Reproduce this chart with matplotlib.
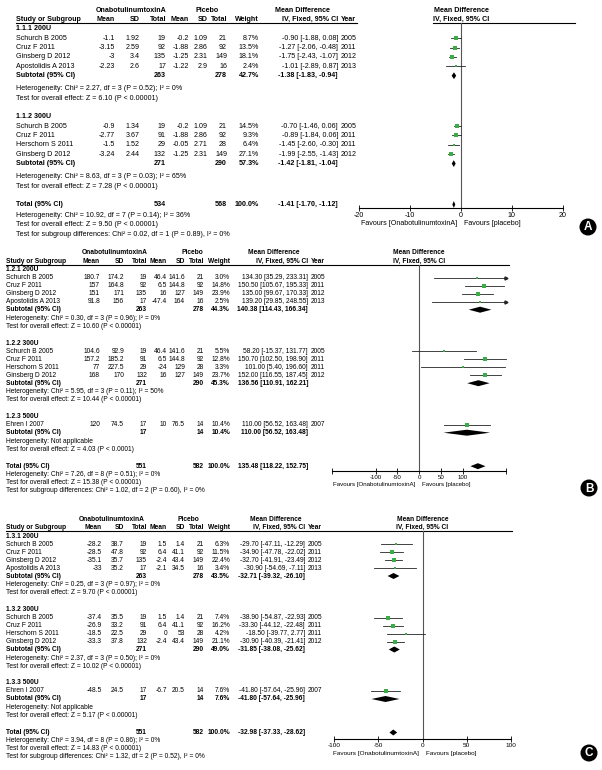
import matplotlib
matplotlib.use("Agg")
import matplotlib.pyplot as plt
from matplotlib.patches import Circle

plt.rcParams['font.family'] = ['Liberation Sans', 'DejaVu Sans']

W, H = 602, 770
GREEN = '#3aad46'

# ---------------- panel A : 200U / 300U, mean difference ----------------
a_groups = ["1.1.1 200U", "1.1.2 300U"]
a_group = [0, 0, 0, 0, 1, 1, 1, 1]
a_study = ["Schurch B 2005", "Cruz F 2011", "Ginsberg D 2012", "Apostolidis A 2013",
           "Schurch B 2005", "Cruz F 2011", "Herschorn S 2011", "Ginsberg D 2012"]
a_year = [2005, 2011, 2012, 2013, 2005, 2011, 2011, 2012]
a_t_mean = [-1.1, -3.15, -3, -2.23, -0.9, -2.77, -1.5, -3.24]
a_t_sd = [1.92, 2.59, 3.4, 2.6, 1.34, 3.67, 1.52, 2.44]
a_t_n = [19, 92, 135, 17, 19, 91, 29, 132]
a_p_mean = [-0.2, -1.88, -1.25, -1.22, -0.2, -1.88, -0.05, -1.25]
a_p_sd = [1.09, 2.86, 2.31, 2.9, 1.09, 2.86, 2.71, 2.31]
a_p_n = [21, 92, 149, 16, 21, 92, 28, 149]
a_weight = [8.7, 13.5, 18.1, 2.4, 14.5, 9.3, 6.4, 27.1]
a_md = [-0.90, -1.27, -1.75, -1.01, -0.70, -0.89, -1.45, -1.99]
a_lo = [-1.88, -2.06, -2.43, -2.89, -1.46, -1.84, -2.60, -2.55]
a_hi = [0.08, -0.48, -1.07, 0.87, 0.06, 0.06, -0.30, -1.43]
a_sub_t_n = [263, 271]
a_sub_p_n = [278, 290]
a_sub_w = [42.7, 57.3]
a_sub_md = [-1.38, -1.42]
a_sub_lo = [-1.83, -1.81]
a_sub_hi = [-0.94, -1.04]
a_sub_het = ["Heterogeneity: Chi² = 2.27, df = 3 (P = 0.52); I² = 0%",
             "Heterogeneity: Chi² = 8.63, df = 3 (P = 0.03); I² = 65%"]
a_sub_z = ["Test for overall effect: Z = 6.10 (P < 0.00001)",
           "Test for overall effect: Z = 7.28 (P < 0.00001)"]
a_tot = [534, 568, 100.0, -1.41, -1.70, -1.12]
a_tot_text = ["Heterogeneity: Chi² = 10.92, df = 7 (P = 0.14); I² = 36%",
              "Test for overall effect: Z = 9.50 (P < 0.00001)",
              "Test for subgroup differences: Chi² = 0.02, df = 1 (P = 0.89), I² = 0%"]
a_ticks = [-20, -10, 0, 10, 20]
a_ticklabels = ["-20", "-10", "0", "10", "20"]

# ---------------- panel B ----------------
b_groups = ["1.2.1 200U", "1.2.2 300U", "1.2.3 500U"]
b_group = [0, 0, 0, 0, 1, 1, 1, 1, 2]
b_study = ["Schurch B 2005", "Cruz F 2011", "Ginsberg D 2012", "Apostolidis A 2013",
           "Schurch B 2005", "Cruz F 2011", "Herschorn S 2011", "Ginsberg D 2012",
           "Ehren I 2007"]
b_year = [2005, 2011, 2012, 2013, 2005, 2011, 2011, 2012, 2007]
b_t_mean = [180.7, 157, 151, 91.8, 104.6, 157.2, 77, 168, 120]
b_t_sd = [174.2, 164.8, 171, 156, 92.9, 185.2, 227.5, 170, 74.5]
b_t_n = [19, 92, 135, 17, 19, 91, 29, 132, 17]
b_p_mean = [46.4, 6.5, 16, -47.4, 46.4, 6.5, -24, 16, 10]
b_p_sd = [141.6, 144.8, 127, 164, 141.6, 144.8, 129, 127, 76.5]
b_p_n = [21, 92, 149, 16, 21, 92, 28, 149, 14]
b_weight = [3.0, 14.8, 23.9, 2.5, 5.5, 12.8, 3.3, 23.7, 10.4]
b_md = [134.30, 150.50, 135.00, 139.20, 58.20, 150.70, 101.00, 152.00, 110.00]
b_lo = [35.29, 105.67, 99.67, 29.85, -15.37, 102.50, 5.40, 116.55, 56.52]
b_hi = [233.31, 195.33, 170.33, 248.55, 131.77, 198.90, 196.60, 187.45, 163.48]
b_sub_t_n = [263, 271, 17]
b_sub_p_n = [278, 290, 14]
b_sub_w = [44.3, 45.3, 10.4]
b_sub_md = [140.38, 136.56, 110.00]
b_sub_lo = [114.43, 110.91, 56.52]
b_sub_hi = [166.34, 162.21, 163.48]
b_sub_het = ["Heterogeneity: Chi² = 0.30, df = 3 (P = 0.96); I² = 0%",
             "Heterogeneity: Chi² = 5.95, df = 3 (P = 0.11); I² = 50%",
             "Heterogeneity: Not applicable"]
b_sub_z = ["Test for overall effect: Z = 10.60 (P < 0.00001)",
           "Test for overall effect: Z = 10.44 (P < 0.00001)",
           "Test for overall effect: Z = 4.03 (P < 0.0001)"]
b_tot = [551, 582, 100.0, 135.48, 118.22, 152.75]
b_tot_text = ["Heterogeneity: Chi² = 7.26, df = 8 (P = 0.51); I² = 0%",
              "Test for overall effect: Z = 15.38 (P < 0.00001)",
              "Test for subgroup differences: Chi² = 1.02, df = 2 (P = 0.60), I² = 0%"]
b_ticks = [-200, -100, -50, 0, 50, 100, 200]
b_ticklabels = ["", "-100", "-50", "0", "50", "100", ""]

# ---------------- panel C ----------------
c_groups = ["1.3.1 200U", "1.3.2 300U", "1.3.3 500U"]
c_group = [0, 0, 0, 0, 1, 1, 1, 1, 2]
c_study = b_study
c_year = b_year
c_t_mean = [-28.2, -28.5, -35.1, -33, -37.4, -26.9, -18.5, -33.3, -48.5]
c_t_sd = [38.7, 47.8, 35.7, 35.2, 35.5, 33.2, 22.5, 37.8, 24.5]
c_t_n = [19, 92, 135, 17, 19, 91, 29, 132, 17]
c_p_mean = [1.5, 6.4, -2.4, -2.1, 1.5, 6.4, 0, -2.4, -6.7]
c_p_sd = [1.4, 41.1, 43.4, 34.5, 1.4, 41.1, 53, 43.4, 20.5]
c_p_n = [21, 92, 149, 16, 21, 92, 28, 149, 14]
c_weight = [6.3, 11.5, 22.4, 3.4, 7.4, 16.2, 4.2, 21.1, 7.6]
c_md = [-29.70, -34.90, -32.70, -30.90, -38.90, -33.30, -18.50, -30.90, -41.80]
c_lo = [-47.11, -47.78, -41.91, -54.69, -54.87, -44.12, -39.77, -40.39, -57.64]
c_hi = [-12.29, -22.02, -23.49, -7.11, -22.93, -22.48, 2.77, -21.41, -25.96]
c_sub_t_n = [263, 271, 17]
c_sub_p_n = [278, 290, 14]
c_sub_w = [43.5, 49.0, 7.6]
c_sub_md = [-32.71, -31.85, -41.80]
c_sub_lo = [-39.32, -38.08, -57.64]
c_sub_hi = [-26.10, -25.62, -25.96]
c_sub_het = ["Heterogeneity: Chi² = 0.25, df = 3 (P = 0.97); I² = 0%",
             "Heterogeneity: Chi² = 2.37, df = 3 (P = 0.50); I² = 0%",
             "Heterogeneity: Not applicable"]
c_sub_z = ["Test for overall effect: Z = 9.70 (P < 0.00001)",
           "Test for overall effect: Z = 10.02 (P < 0.00001)",
           "Test for overall effect: Z = 5.17 (P < 0.00001)"]
c_tot = [551, 582, 100.0, -32.98, -37.33, -28.62]
c_tot_text = ["Heterogeneity: Chi² = 3.94, df = 8 (P = 0.86); I² = 0%",
              "Test for overall effect: Z = 14.83 (P < 0.00001)",
              "Test for subgroup differences: Chi² = 1.32, df = 2 (P = 0.52), I² = 0%"]
c_ticks = [-100, -50, 0, 50, 100]
c_ticklabels = ["-100", "-50", "0", "50", "100"]


def ci_text(m, lo, hi):
    return f"{m:.2f} [{lo:.2f}, {hi:.2f}]"


def draw_panel(fig, ov, d, lay):
    fs = lay["fs"]
    cols = lay["cols"]
    y0 = lay["top"]
    # header rows
    ov.text(lay["h_trt"], y0, "OnabotulinumtoxinA", ha='center', va='center', fontsize=fs, fontweight='bold')
    ov.text(lay["h_pbo"], y0, "Picebo", ha='center', va='center', fontsize=fs, fontweight='bold')
    ov.text(lay["h_md"], y0, "Mean Difference", ha='center', va='center', fontsize=fs, fontweight='bold')
    yh = y0 + lay["hdr"]
    ov.text(cols[0], yh, "Study or Subgroup", ha='left', va='center', fontsize=fs, fontweight='bold')
    for x, s in zip(cols[1:9], ["Mean", "SD", "Total", "Mean", "SD", "Total", "Weight", "IV, Fixed, 95% CI"]):
        ov.text(x, yh, s, ha='right', va='center', fontsize=fs, fontweight='bold')
    ov.text(cols[9], yh, "Year", ha='left', va='center', fontsize=fs, fontweight='bold')
    yl = yh + 3.2
    for x1, x2 in lay["lines"]:
        ov.plot([x1, x2], [yl, yl], color='black', lw=0.8)

    # forest axes, x in data units, y in figure pixels
    fx0, fx1 = lay["fx"]
    yb = lay["axis_y"]
    ax = fig.add_axes([fx0 / W, 1 - yb / H, (fx1 - fx0) / W, (yb - yl) / H])
    ax.set_xlim(d["ticks"][0], d["ticks"][-1])
    ax.set_ylim(yb, yl)
    ax.patch.set_alpha(0)
    for s in ["left", "right", "top"]:
        ax.spines[s].set_visible(False)
    ax.spines["bottom"].set_linewidth(0.8)
    ax.set_yticks([])
    ax.set_xticks(d["ticks"])
    ax.set_xticklabels(d["ticklabels"])
    ax.tick_params(axis='x', direction='inout', length=4, width=0.6, labelsize=lay["afs"], pad=1)
    ax.axvline(0, color='#555555', lw=0.8)
    fc = (fx0 + fx1) / 2
    ov.text(fc, y0, "Mean Difference", ha='center', va='center', fontsize=fs, fontweight='bold')
    ov.text(fc, yh, "IV, Fixed, 95% CI", ha='center', va='center', fontsize=fs, fontweight='bold')
    ax.annotate("Favours [OnabotulinumtoxinA]", xy=(0, 0), xycoords=('data', 'axes fraction'),
                xytext=(-2.5, -lay["fav"]), textcoords='offset points', ha='right', va='center',
                fontsize=lay["afs"])
    ax.annotate("Favours [placebo]", xy=(0, 0), xycoords=('data', 'axes fraction'),
                xytext=(2.5, -lay["fav"]), textcoords='offset points', ha='left', va='center',
                fontsize=lay["afs"])
    xmax = d["ticks"][-1]

    r, hstep, gap = lay["r"], lay["h"], lay["g"]
    y = yl + lay["first"]
    for g, gname in enumerate(d["groups"]):
        ov.text(cols[0], y, gname, ha='left', va='center', fontsize=fs, fontweight='bold')
        for i in [k for k, gg in enumerate(d["group"]) if gg == g]:
            y += r
            vals = [f"{d['t_mean'][i]:g}", f"{d['t_sd'][i]:g}", f"{d['t_n'][i]}",
                    f"{d['p_mean'][i]:g}", f"{d['p_sd'][i]:g}", f"{d['p_n'][i]}",
                    f"{d['weight'][i]:.1f}%", ci_text(d['md'][i], d['lo'][i], d['hi'][i])]
            ov.text(cols[0], y, d["study"][i], ha='left', va='center', fontsize=fs)
            for x, s in zip(cols[1:9], vals):
                ov.text(x, y, s, ha='right', va='center', fontsize=fs)
            ov.text(cols[9], y, str(d["year"][i]), ha='left', va='center', fontsize=fs)
            hi = min(d["hi"][i], xmax)
            ax.plot([d["lo"][i], hi], [y, y], color='#222222', lw=0.6, clip_on=False)
            if d["hi"][i] > xmax:
                ax.plot(xmax, y, '>', ms=2.2, color='#222222', clip_on=False)
            ax.plot(d["md"][i], y, 's', ms=1.0 + 0.45 * d["weight"][i] ** 0.5,
                    color=GREEN, mec=GREEN, mew=0, clip_on=False)
        y += r
        ov.text(cols[0], y, "Subtotal (95% CI)", ha='left', va='center', fontsize=fs, fontweight='bold')
        for x, s in zip([cols[3], cols[6], cols[7], cols[8]],
                        [str(d["sub_t_n"][g]), str(d["sub_p_n"][g]), f"{d['sub_w'][g]:.1f}%",
                         ci_text(d["sub_md"][g], d["sub_lo"][g], d["sub_hi"][g])]):
            ov.text(x, y, s, ha='right', va='center', fontsize=fs, fontweight='bold')
        dh = lay["dh"]
        ax.fill([d["sub_lo"][g], d["sub_md"][g], d["sub_hi"][g], d["sub_md"][g]],
                [y, y - dh, y, y + dh], color='black', lw=0, clip_on=False)
        y += hstep
        ov.text(cols[0], y, d["sub_het"][g], ha='left', va='center', fontsize=fs)
        y += r
        ov.text(cols[0], y, d["sub_z"][g], ha='left', va='center', fontsize=fs)
        y += gap
    t = d["tot"]
    ov.text(cols[0], y, "Total (95% CI)", ha='left', va='center', fontsize=fs, fontweight='bold')
    for x, s in zip([cols[3], cols[6], cols[7], cols[8]],
                    [str(t[0]), str(t[1]), f"{t[2]:.1f}%", ci_text(t[3], t[4], t[5])]):
        ov.text(x, y, s, ha='right', va='center', fontsize=fs, fontweight='bold')
    dh = lay["dh"]
    ax.fill([t[4], t[3], t[5], t[3]], [y, y - dh, y, y + dh], color='black', lw=0, clip_on=False)
    y += lay["th"]
    for s in d["tot_text"]:
        ov.text(cols[0], y, s, ha='left', va='center', fontsize=fs)
        y += r

    cx, cy = lay["badge"]
    ov.add_patch(Circle((cx, cy), 7.8, color='black'))
    ov.text(cx, cy + 0.5, lay["letter"], ha='center', va='center', fontsize=8.5,
            fontweight='bold', color='white')


def pack(p):
    g = globals()
    keys = ["groups", "group", "study", "year", "t_mean", "t_sd", "t_n", "p_mean", "p_sd",
            "p_n", "weight", "md", "lo", "hi", "sub_t_n", "sub_p_n", "sub_w", "sub_md",
            "sub_lo", "sub_hi", "sub_het", "sub_z", "tot", "tot_text", "ticks", "ticklabels"]
    return {k: g[f"{p}_{k}"] for k in keys}


fig = plt.figure(figsize=(W / 100, H / 100), dpi=100)
ov = fig.add_axes([0, 0, 1, 1])
ov.set_xlim(0, W)
ov.set_ylim(H, 0)
ov.axis('off')

lay_a = dict(fs=5.1, afs=5.1, top=10, hdr=9.8, cols=[16, 115, 140, 166, 189, 208, 227, 259, 338, 341],
             h_trt=131, h_pbo=207, h_md=302, lines=[(16, 357), (433, 575)],
             fx=(359, 563), axis_y=208, fav=11.5, first=5.7, r=9.4, h=13, g=18.5, th=11,
             dh=3.4, badge=(588, 227), letter="A")
lay_b = dict(fs=4.8, afs=4.4, top=253, hdr=8.3, cols=[6, 100, 124, 147, 167, 185, 204, 230, 308, 311],
             h_trt=115, h_pbo=192, h_md=274, lines=[(6, 509)],
             fx=(332, 506), axis_y=471, fav=9.4, first=5.2, r=8.0, h=8.5, g=17, th=8.5,
             dh=3.0, badge=(589, 488), letter="B")
lay_c = dict(fs=4.8, afs=4.6, top=519.5, hdr=8.3, cols=[6, 102, 124, 147, 167, 185, 204, 230, 305, 308],
             h_trt=112, h_pbo=188, h_md=276, lines=[(6, 512)],
             fx=(334, 511), axis_y=739, fav=10.5, first=5.0, r=8.0, h=8.5, g=17, th=8.5,
             dh=3.0, badge=(589, 753), letter="C")

draw_panel(fig, ov, pack("a"), lay_a)
draw_panel(fig, ov, pack("b"), lay_b)
draw_panel(fig, ov, pack("c"), lay_c)

fig.savefig("out.png", dpi=100)
